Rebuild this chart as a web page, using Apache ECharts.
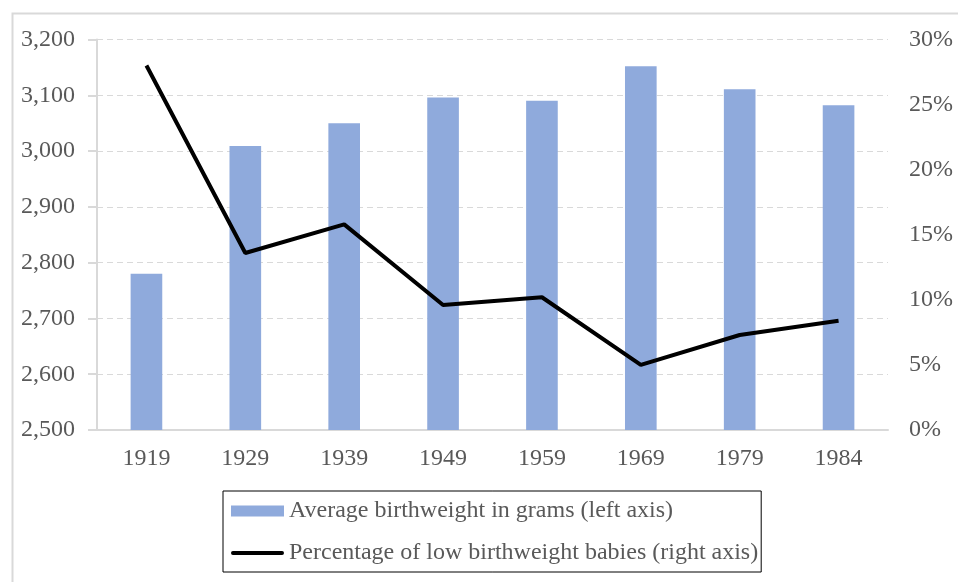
<!DOCTYPE html>
<html>
<head>
<meta charset="utf-8">
<script src="https://cdn.jsdelivr.net/npm/echarts@6/dist/echarts.min.js"></script>
<style>html,body{margin:0;padding:0;background:#fff}#c{width:958px;height:582px}</style>
</head>
<body>
<div id="c"></div>
<script>
const years = ['1919','1929','1939','1949','1959','1969','1979','1984'];
const avgWeight = [2780, 3009, 3050, 3096, 3090, 3152, 3111, 3082];
const lowPct = [28.0, 13.6, 15.8, 9.6, 10.2, 5.0, 7.3, 8.4];
const leftTicks = {min: 2500, max: 3200, interval: 100};
const rightTicks = {min: 0, max: 30, interval: 5};

const font = '"Liberation Serif", "Times New Roman", serif';
const chart = echarts.init(document.getElementById('c'));
chart.setOption({
  animation: false,
  textStyle: {fontFamily: font},
  graphic: [{
    type: 'rect', left: 10, top: 11,
    shape: {width: 970, height: 600},
    style: {fill: 'none', stroke: '#d9d9d9', lineWidth: 2}, silent: true
  }],
  grid: {left: 97, right: 70, top: 39.5, bottom: 152, containLabel: false},
  legend: {
    orient: 'vertical', left: 223, top: 491,
    padding: [8, 3, 7, 8], itemGap: 18,
    borderColor: '#000', borderWidth: 1,
    itemWidth: 53, itemHeight: 11,
    textStyle: {fontFamily: font, fontSize: 24, color: '#595959'},
    data: [{name: 'Average birthweight in grams (left axis)', icon: 'rect'},
           {name: 'Percentage of low birthweight babies (right axis)',
            icon: 'path://M2,0 L52,0 A2,2 0 0 1 52,4 L2,4 A2,2 0 0 1 2,0 Z',
            itemStyle: {color: '#000'}}]
  },
  xAxis: {
    type: 'category', data: years,
    axisLine: {lineStyle: {color: '#d9d9d9', width: 2}},
    axisTick: {show: false},
    axisLabel: {fontFamily: font, fontSize: 24, color: '#595959', margin: 17}
  },
  yAxis: [{
    type: 'value', min: leftTicks.min, max: leftTicks.max, interval: leftTicks.interval,
    axisLine: {show: true, lineStyle: {color: '#d9d9d9', width: 2}},
    axisTick: {show: true, length: 9, lineStyle: {color: '#d9d9d9', width: 2}},
    axisLabel: {fontFamily: font, fontSize: 24, color: '#595959', margin: 22,
      formatter: v => v.toLocaleString('en-US')},
    splitLine: {lineStyle: {color: '#d9d9d9', type: [6, 4], width: 1}}
  }, {
    type: 'value', min: rightTicks.min, max: rightTicks.max, interval: rightTicks.interval,
    axisLine: {show: false}, axisTick: {show: false},
    axisLabel: {fontFamily: font, fontSize: 24, color: '#595959', margin: 21,
      formatter: v => v + '%'},
    splitLine: {show: false}
  }],
  series: [{
    name: 'Average birthweight in grams (left axis)', type: 'bar',
    data: avgWeight, barWidth: '32%',
    itemStyle: {color: '#8faadc'}
  }, {
    name: 'Percentage of low birthweight babies (right axis)', type: 'line',
    yAxisIndex: 1, data: lowPct, symbol: 'none',
    lineStyle: {color: '#000', width: 4}, itemStyle: {color: '#000'}
  }]
});
</script>
</body>
</html>
